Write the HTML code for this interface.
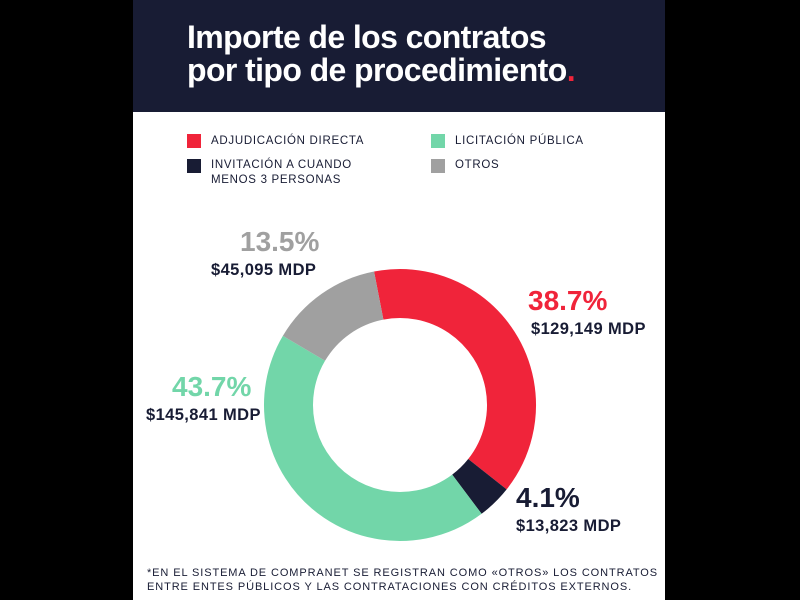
<!DOCTYPE html>
<html><head><style>
body{margin:0;width:800px;height:600px;background:#000;overflow:hidden;font-family:"Liberation Sans",sans-serif}
#p{position:absolute;left:133px;top:0;width:532px;height:600px;background:#fff}
#h{position:absolute;left:0;top:0;width:532px;height:112px;background:#181c34}
.t{position:absolute;left:54px;color:#fff;font-weight:bold;font-size:32px;letter-spacing:-0.6px;white-space:nowrap}
.lg{position:absolute;font-size:11.5px;letter-spacing:0.7px;color:#181c34;line-height:15px;white-space:nowrap}
.sq{position:absolute;width:14px;height:14px}
.pc{position:absolute;font-weight:bold;font-size:28px;white-space:nowrap}
.mv{position:absolute;font-weight:bold;font-size:16.5px;letter-spacing:0.4px;color:#181c34;white-space:nowrap}
.ft{position:absolute;left:14px;top:566px;font-size:11px;letter-spacing:0.9px;color:#181c34;line-height:14px;white-space:nowrap}
</style></head><body>
<div id="p">
<div id="h">
<div class="t" style="top:19px">Importe de los contratos</div>
<div class="t" style="top:52px">por tipo de procedimiento<span style="color:#f0243a">.</span></div>
</div>
<div class="sq" style="left:54px;top:134px;background:#f0243a"></div>
<div class="lg" style="left:78px;top:134px">ADJUDICACIÓN DIRECTA</div>
<div class="sq" style="left:54px;top:159px;background:#181c34"></div>
<div class="lg" style="left:78px;top:158px">INVITACIÓN A CUANDO<br>MENOS 3 PERSONAS</div>
<div class="sq" style="left:298px;top:134px;background:#72d6a9"></div>
<div class="lg" style="left:322px;top:134px">LICITACIÓN PÚBLICA</div>
<div class="sq" style="left:298px;top:159px;background:#a0a0a0"></div>
<div class="lg" style="left:322px;top:158px">OTROS</div>
<svg style="position:absolute;left:0;top:0" width="532" height="600">
<g transform="translate(267,405) rotate(-101)" fill="none" stroke-width="49">
<circle r="111.5" stroke="#f0243a" stroke-dasharray="271.1 1000" stroke-dashoffset="0"/>
<circle r="111.5" stroke="#181c34" stroke-dasharray="28.7 1000" stroke-dashoffset="-271.1"/>
<circle r="111.5" stroke="#72d6a9" stroke-dasharray="306.2 1000" stroke-dashoffset="-299.8"/>
<circle r="111.5" stroke="#a0a0a0" stroke-dasharray="94.6 1000" stroke-dashoffset="-606"/>
</g></svg>
<div class="pc" style="left:107px;top:226px;color:#a0a0a0">13.5%</div>
<div class="mv" style="left:78px;top:261px">$45,095 MDP</div>
<div class="pc" style="left:395px;top:285px;color:#f0243a">38.7%</div>
<div class="mv" style="left:398px;top:320px">$129,149 MDP</div>
<div class="pc" style="left:39px;top:371px;color:#72d6a9">43.7%</div>
<div class="mv" style="left:13px;top:406px">$145,841 MDP</div>
<div class="pc" style="left:383px;top:482px;color:#181c34">4.1%</div>
<div class="mv" style="left:383px;top:517px">$13,823 MDP</div>
<div class="ft">*EN EL SISTEMA DE COMPRANET SE REGISTRAN COMO «OTROS» LOS CONTRATOS<br>ENTRE ENTES PÚBLICOS Y LAS CONTRATACIONES CON CRÉDITOS EXTERNOS.</div>
</div>
</body></html>
